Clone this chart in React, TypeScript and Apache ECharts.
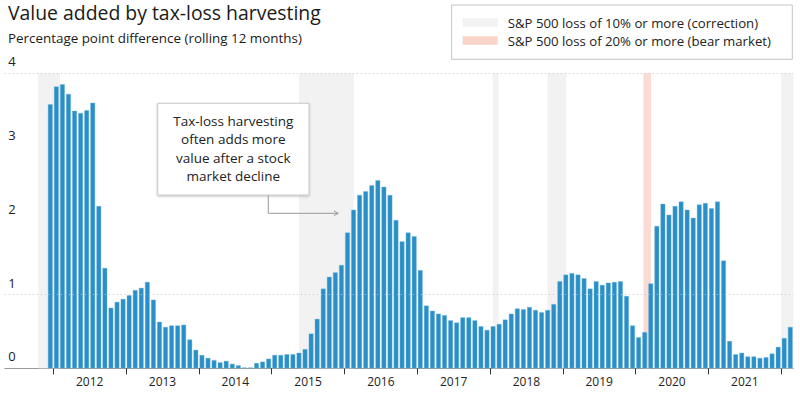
import React, { useEffect, useRef } from "react";
import * as echarts from "echarts";

// Monthly values (percentage points), first bar = Dec 2011
const firstYear = 2011;
const firstMonth = 12;
const values2011 = [3.58];
const values2012 = [3.82, 3.85, 3.72, 3.49, 3.46, 3.5, 3.6, 2.2, 1.36, 0.82, 0.9, 0.94];
const values2013 = [0.99, 1.06, 1.09, 1.17, 0.93, 0.63, 0.56, 0.58, 0.58, 0.59, 0.39, 0.25];
const values2014 = [0.18, 0.14, 0.11, 0.08, 0.1, 0.06, 0.04, 0.01, 0.01, 0.07, 0.09, 0.13];
const values2015 = [0.18, 0.18, 0.19, 0.19, 0.21, 0.26, 0.47, 0.67, 1.08, 1.24, 1.3, 1.4];
const values2016 = [1.84, 2.15, 2.35, 2.4, 2.48, 2.55, 2.46, 2.35, 2.01, 1.72, 1.84, 1.79];
const values2017 = [1.33, 0.85, 0.78, 0.74, 0.72, 0.65, 0.62, 0.69, 0.69, 0.65, 0.57, 0.52];
const values2018 = [0.57, 0.6, 0.66, 0.74, 0.81, 0.8, 0.83, 0.79, 0.76, 0.79, 0.87, 1.18];
const values2019 = [1.27, 1.29, 1.27, 1.22, 1.08, 1.18, 1.13, 1.16, 1.17, 1.18, 0.98, 0.58];
const values2020 = [0.42, 0.49, 1.15, 1.93, 2.23, 2.08, 2.2, 2.26, 2.15, 2.04, 2.22, 2.24];
const values2021 = [2.17, 2.26, 1.46, 0.37, 0.19, 0.21, 0.16, 0.16, 0.14, 0.15, 0.2, 0.29];
const values2022 = [0.41, 0.56];

// Year tick labels
const years = [2012, 2013, 2014, 2015, 2016, 2017, 2018, 2019, 2020, 2021];
const yTicks = [0, 1, 2, 3, 4];

// Market-decline periods in decimal years
const correctionPeriods: [number, number][] = [
  [2011.793, 2012.092],
  [2015.376, 2016.128],
  [2018.037, 2018.12],
  [2018.788, 2019.049],
  [2022.0, 2022.1667],
];
const bearPeriods: [number, number][] = [[2020.107, 2020.213]];

const correctionName = "S&P 500 loss of 10% or more (correction)";
const bearName = "S&P 500 loss of 20% or more (bear market)";
const title = "Value added by tax-loss harvesting";
const subtitle = "Percentage point difference (rolling 12 months)";
const annotation = "Tax-loss harvesting\noften adds more\nvalue after a stock\nmarket decline";

const FONT = "'Open Sans', 'Noto Sans', sans-serif";

export default function App() {
  const ref = useRef<HTMLDivElement>(null);
  useEffect(() => {
    if (!ref.current) return;
    const chart = echarts.init(ref.current, null, { renderer: "svg" });
    const all = [
      values2011, values2012, values2013, values2014, values2015, values2016,
      values2017, values2018, values2019, values2020, values2021, values2022,
    ].flat();
    const data = all.map((v, i) => {
      const m = firstMonth - 1 + i; // months since Jan of firstYear
      return [firstYear + (m + 0.5) / 12, v];
    });
    const axisMin = 2011 + 4 / 12;
    const axisMax = 2022 + 2 / 12;

    chart.setOption({
      animation: false,
      textStyle: { fontFamily: FONT },
      title: [
        {
          text: title,
          left: 8,
          top: 3,
          padding: 0,
          textStyle: { fontSize: 19.4, fontWeight: "normal", color: "#1a1a1a", fontFamily: FONT },
        },
        {
          text: subtitle,
          left: 8,
          top: 31,
          padding: 0,
          textStyle: { fontSize: 13.4, fontWeight: "normal", color: "#1a1a1a", fontFamily: FONT },
        },
      ],
      legend: {
        orient: "vertical",
        left: 462.7,
        top: 14.5,
        padding: 0,
        itemWidth: 35,
        itemHeight: 8.5,
        itemGap: 2,
        icon: "rect",
        data: [correctionName, bearName],
        textStyle: { fontSize: 13.2, lineHeight: 16, color: "#222", fontFamily: FONT, padding: [0, 0, 0, 5] },
      },
      grid: { left: 4.8, right: 6.7, top: 73.3, bottom: 26.7, containLabel: false },
      xAxis: {
        type: "value",
        min: axisMin,
        max: axisMax,
        axisLine: { show: true, lineStyle: { color: "#9a9a9a", width: 1 } },
        axisTick: {
          show: true,
          customValues: [...years, 2022],
          length: 6,
          lineStyle: { color: "#333", width: 1 },
        },
        axisLabel: {
          customValues: years.map((y) => y + 0.5),
          formatter: (v: number) => String(Math.floor(v)),
          fontSize: 12,
          color: "#222",
          margin: 7,
          fontFamily: FONT,
        },
        splitLine: { show: false },
      },
      yAxis: {
        type: "value",
        min: yTicks[0],
        max: yTicks[yTicks.length - 1],
        interval: 1,
        axisLine: { show: false },
        axisTick: { show: false },
        splitLine: { show: false },
        axisLabel: {
          inside: true,
          align: "left",
          verticalAlign: "bottom",
          lineHeight: 14,
          padding: [0, 0, 5, 0],
          margin: 3.5,
          fontSize: 13,
          color: "#222",
          fontFamily: FONT,
        },
      },
      series: [
        {
          name: correctionName,
          type: "line",
          data: [],
          z: 1,
          itemStyle: { color: "#f2f2f2" },
          lineStyle: { color: "#f2f2f2" },
          markArea: {
            silent: true,
            itemStyle: { color: "#f2f2f2" },
            label: { show: false },
            data: correctionPeriods.map(([a, b]) => [
              { xAxis: a, yAxis: 0 },
              { xAxis: b, yAxis: 4 },
            ]),
          },
        },
        {
          name: bearName,
          type: "line",
          data: [],
          z: 1,
          itemStyle: { color: "#f8d5c8" },
          lineStyle: { color: "#f8d5c8" },
          markArea: {
            silent: true,
            itemStyle: { color: "#f9dcd3" },
            label: { show: false },
            data: bearPeriods.map(([a, b]) => [
              { xAxis: a, yAxis: 0 },
              { xAxis: b, yAxis: 4 },
            ]),
          },
        },
        {
          name: "grid",
          type: "line",
          data: [],
          z: 2,
          markLine: {
            silent: true,
            symbol: "none",
            label: { show: false },
            lineStyle: { color: "#c4c4c4", type: [1, 3], width: 1 },
            data: [{ yAxis: 1 }, { yAxis: 4 }],
          },
        },
        {
          name: "Value added",
          type: "bar",
          z: 3,
          barWidth: 4.7,
          data,
          itemStyle: { color: "#2a8fc6", borderColor: "#6fb6df", borderWidth: 0.4 },
        },
      ],
      graphic: [
        {
          type: "rect",
          shape: { x: 451.7, y: 5, width: 340.6, height: 54.3 },
          style: { fill: "#fff", stroke: "#c4c4c4", lineWidth: 1 },
          z: -1,
        },
        {
          type: "rect",
          shape: { x: 157.7, y: 103.3, width: 151.3, height: 91.7 },
          style: {
            fill: "#fff",
            stroke: "#c8c8c8",
            lineWidth: 1,
            shadowColor: "rgba(0,0,0,0.25)",
            shadowBlur: 2,
            shadowOffsetY: 1,
          },
          z: 10,
        },
        {
          type: "text",
          x: 233.3,
          y: 112,
          z: 11,
          style: {
            text: annotation,
            fill: "#222",
            fontSize: 13.5,
            lineHeight: 18.3,
            align: "center",
            verticalAlign: "top",
            fontFamily: FONT,
          },
        },
        {
          type: "polyline",
          z: 10,
          shape: { points: [[268.3, 195.5], [268.3, 213.3], [338, 213.3]] },
          style: { stroke: "#999", lineWidth: 1, fill: "none" },
        },
        {
          type: "polyline",
          z: 10,
          shape: { points: [[334, 211], [338.3, 213.3], [334, 215.6]] },
          style: { stroke: "#999", lineWidth: 1, fill: "none" },
        },
      ],
    });
    return () => chart.dispose();
  }, []);
  return (
    <div
      ref={ref}
      style={{ position: "fixed", left: 0, top: 0, width: 800, height: 395, background: "#fff" }}
    />
  );
}
